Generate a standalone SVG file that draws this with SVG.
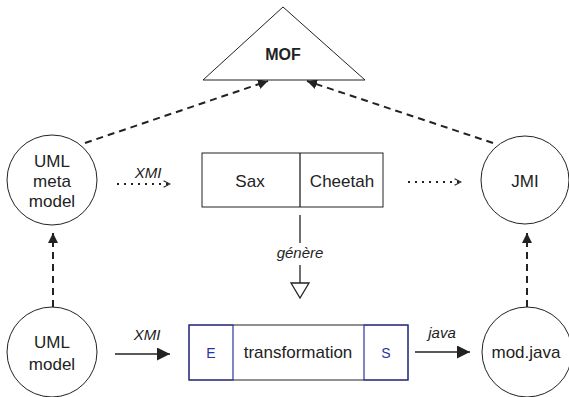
<svg xmlns="http://www.w3.org/2000/svg" width="569" height="397" viewBox="0 0 569 397">
<style>
text{font-family:"Liberation Sans",Arial,sans-serif;fill:#222}
.n{font-size:17px;text-anchor:middle}
.l{font-size:15px;font-style:italic;text-anchor:middle}
.s{fill:#fff;stroke:#222;stroke-width:1}
.dash{stroke:#222;stroke-width:2;stroke-dasharray:7,5;fill:none}
.dot{stroke:#222;stroke-width:2;stroke-dasharray:2,5;fill:none}
.sol{stroke:#222;stroke-width:1.3;fill:none}
.blue{stroke:#3030a0;fill:none;stroke-width:1.2}
</style>
<defs>
<marker id="fb" viewBox="0 0 10 10" refX="10" refY="5" markerWidth="10" markerHeight="10" markerUnits="userSpaceOnUse" orient="auto"><path d="M0,0L10,5L0,10z" fill="#222"/></marker>
<marker id="fa2" viewBox="0 0 10 10" refX="10" refY="5" markerWidth="16" markerHeight="13" markerUnits="userSpaceOnUse" orient="auto"><path d="M0,0L10,5L0,10z" fill="#222"/></marker>
<marker id="op" viewBox="0 0 10 10" refX="9" refY="5" markerWidth="8" markerHeight="10" markerUnits="userSpaceOnUse" orient="auto"><path d="M1,1L9,5L1,9" fill="none" stroke="#222" stroke-width="1.3"/></marker>
</defs>
<g id="connectors">
<line class="dash" x1="85" y1="143" x2="268" y2="81" marker-end="url(#fb)"/>
<line class="dash" x1="493" y1="143" x2="307" y2="81" marker-end="url(#fb)"/>
<line class="dash" x1="53" y1="307" x2="53" y2="233" marker-end="url(#fb)"/>
<line class="dash" x1="527" y1="307" x2="527" y2="233" marker-end="url(#fb)"/>
<line class="dot" x1="117" y1="184" x2="170" y2="184" marker-end="url(#op)"/>
<line class="dot" x1="408" y1="182" x2="461" y2="182" marker-end="url(#op)"/>
<line class="sol" x1="115" y1="354" x2="170" y2="354" marker-end="url(#fa2)"/>
<line class="sol" x1="415" y1="352" x2="470" y2="352" marker-end="url(#fa2)"/>
<line class="sol" x1="300" y1="215" x2="300" y2="243"/>
<line class="sol" x1="300" y1="265" x2="300" y2="283"/>
<path d="M291,283L309,283L300,298z" fill="#fff" stroke="#222" stroke-width="1.3"/>
<text class="l" x="148" y="178">XMI</text>
<text class="l" x="147" y="340">XMI</text>
<text class="l" x="442" y="338">java</text>
<text class="l" x="300" y="258">génère</text>
</g>
<g id="mof">
<path class="s" d="M283,7L365,80L203,80z"/>
<text x="283" y="60" font-size="16" font-weight="bold" text-anchor="middle">MOF</text>
</g>
<g id="uml-meta-model">
<circle class="s" cx="52" cy="180" r="45"/>
<text class="n" x="52" y="167">UML</text>
<text class="n" x="52" y="187">meta</text>
<text class="n" x="52" y="207">model</text>
</g>
<g id="jmi">
<circle class="s" cx="525" cy="180" r="44"/>
<text class="n" x="525" y="187">JMI</text>
</g>
<g id="sax-cheetah">
<rect class="s" x="202" y="153" width="181" height="54"/>
<line class="sol" x1="300" y1="153" x2="300" y2="207" stroke-width="1"/>
<text class="n" x="250" y="187">Sax</text>
<text class="n" x="342" y="187">Cheetah</text>
</g>
<g id="uml-model">
<circle class="s" cx="52" cy="352" r="45"/>
<text class="n" x="52" y="348">UML</text>
<text class="n" x="52" y="370">model</text>
</g>
<g id="transformation">
<rect x="189" y="325" width="219" height="55" fill="#fff" stroke="#222" stroke-width="1"/>
<rect class="blue" x="189" y="325" width="44" height="55"/>
<rect class="blue" x="364" y="325" width="44" height="55"/>
<text x="211" y="358" font-size="14" text-anchor="middle" style="fill:#3030a0">E</text>
<text class="n" x="298" y="358">transformation</text>
<text x="386" y="358" font-size="14" text-anchor="middle" style="fill:#3030a0">S</text>
</g>
<g id="mod-java">
<circle class="s" cx="527" cy="352" r="45"/>
<text class="n" x="526" y="358">mod.java</text>
</g>
</svg>
